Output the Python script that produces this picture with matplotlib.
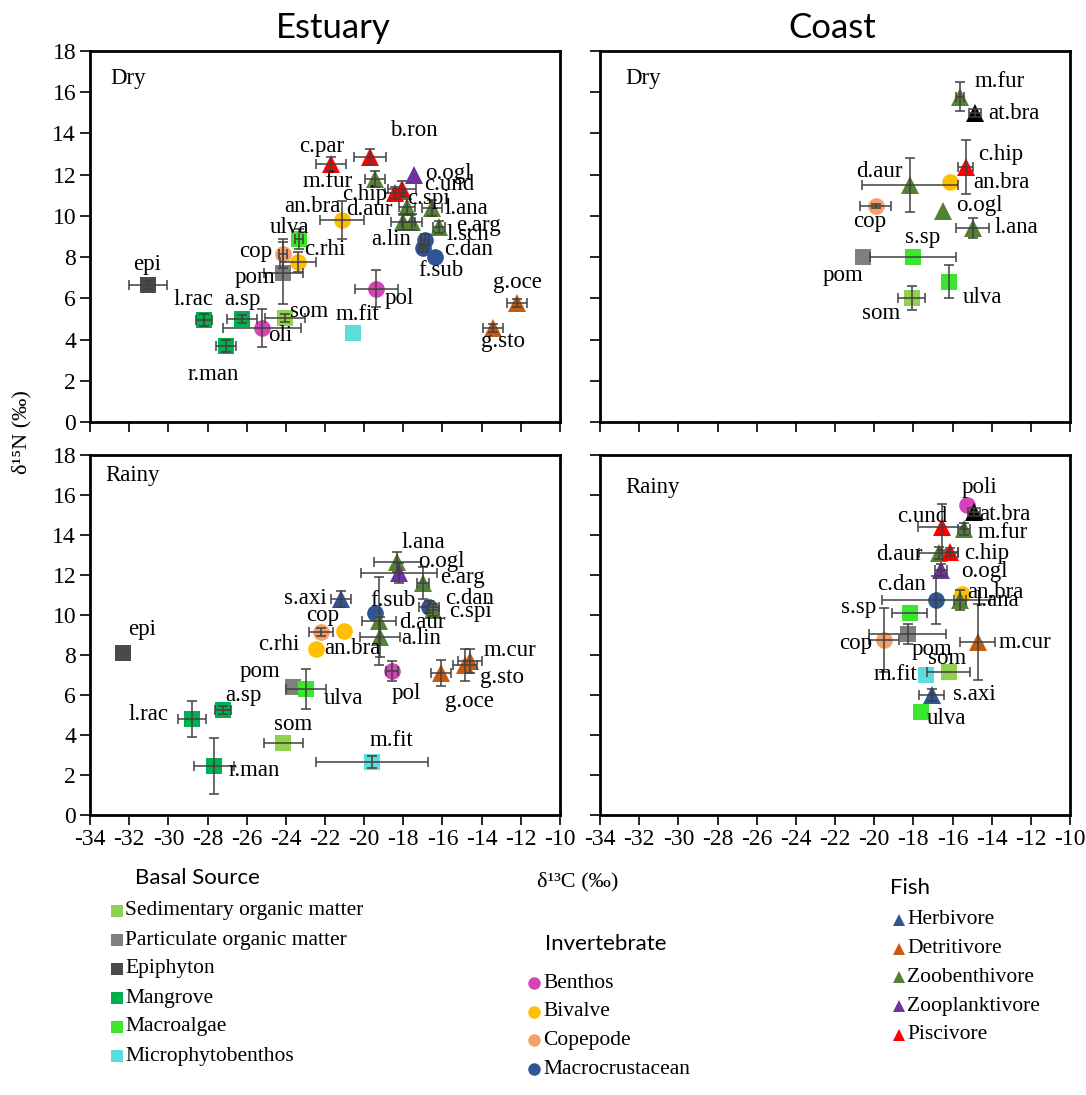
import matplotlib
matplotlib.use('Agg')
from matplotlib import pyplot as plt
from matplotlib.lines import Line2D

plt.rcParams['font.family'] = ['Liberation Serif', 'DejaVu Serif']
plt.rcParams['axes.unicode_minus'] = False

# ---- Estuary, dry season ----
est_dry_names = ['epi', 'l.rac', 'a.sp', 'r.man', 'oli', 'som', 'pom', 'cop', 'c.rhi', 'ulva',
                 'an.bra', 'd.aur', 'c.par', 'b.ron', 'm.fur', 'c.hip', 'c.und', 'o.ogl', 'c.spi',
                 'l.ana', 'e.arg', 'l.sch', 'a.lin', 'c.dan', 'f.sub', 'pol', 'm.fit', 'g.oce', 'g.sto']
est_dry_groups = ['epi', 'mangrove', 'mangrove', 'mangrove', 'benthos', 'som', 'pom', 'copepod',
                  'bivalve', 'macroalgae', 'bivalve', 'zoobenthivore', 'piscivore', 'piscivore',
                  'zoobenthivore', 'piscivore', 'piscivore', 'zooplanktivore', 'zoobenthivore',
                  'zoobenthivore', 'zoobenthivore', 'macrocrust', 'zoobenthivore', 'macrocrust',
                  'macrocrust', 'benthos', 'mpb', 'detritivore', 'detritivore']
est_dry_c13 = [-31.04, -28.18, -26.24, -27.05, -25.22, -24.04, -24.14, -24.14, -23.38, -23.33,
               -21.13, -18.01, -21.69, -19.7, -19.44, -18.42, -18.07, -17.45, -17.81,
               -16.53, -16.18, -16.89, -17.55, -16.99, -16.38, -19.39, -20.57, -12.19, -13.42]
est_dry_n15 = [6.65, 4.95, 5.0, 3.69, 4.56, 5.05, 7.23, 8.16, 7.77, 8.88,
               9.8, 9.71, 12.52, 12.86, 11.8, 11.12, 11.31, 11.99, 10.44,
               10.39, 9.47, 8.83, 9.71, 8.45, 8.01, 6.46, 4.32, 5.78, 4.56]
est_dry_c13_sd = [0.95, 0.4, 0.75, 0.5, 2.0, 1.0, 1.0, 0.2, 0.9, 0.2,
                  1.1, 0.6, 0.75, 0.8, 0.5, 0.5, 0.7, 0, 0.4,
                  0.5, 0.3, 0.2, 0.5, 0.2, 0, 1.1, 0, 0.5, 0.5]
est_dry_n15_sd = [0.2, 0.3, 0.2, 0.3, 0.9, 0.2, 1.5, 0.7, 0.5, 0.5,
                  0.9, 0.4, 0.35, 0.4, 0.4, 0.3, 0.4, 0, 0.4,
                  0.4, 0.3, 0.3, 0.4, 0.2, 0, 0.9, 0, 0.2, 0.2]

# ---- Coast, dry season ----
coast_dry_names = ['m.fur', 'at.bra', 'c.hip', 'an.bra', 'd.aur', 'cop', 'o.ogl', 'l.ana',
                   's.sp', 'pom', 'ulva', 'som']
coast_dry_groups = ['zoobenthivore', 'other', 'piscivore', 'bivalve', 'zoobenthivore', 'copepod',
                    'zoobenthivore', 'zoobenthivore', 'macroalgae', 'pom', 'macroalgae', 'som']
coast_dry_c13 = [-15.63, -14.87, -15.33, -16.14, -18.18, -19.92, -16.5, -14.97,
                 -18.03, -20.58, -16.19, -18.08]
coast_dry_n15 = [15.78, 15.0, 12.38, 11.65, 11.5, 10.49, 10.24, 9.42, 8.01, 8.01, 6.8, 6.02]
coast_dry_c13_sd = [0.2, 0.3, 0.4, 0, 2.45, 0.8, 0, 0.85, 2.2, 0, 0, 0.7]
coast_dry_n15_sd = [0.7, 0.2, 1.3, 0, 1.3, 0.1, 0, 0.5, 0, 0, 0.8, 0.6]

# ---- Estuary, rainy season ----
est_rainy_names = ['epi', 'l.rac', 'a.sp', 'r.man', 'som', 'pom', 'ulva', 'm.fit', 'pol', 'g.oce',
                   'g.sto', 'm.cur', 'c.rhi', 'an.bra', 'cop', 's.axi', 'f.sub', 'd.aur', 'a.lin',
                   'l.ana', 'o.ogl', 'e.arg', 'c.dan', 'c.spi']
est_rainy_groups = ['epi', 'mangrove', 'mangrove', 'mangrove', 'som', 'pom', 'macroalgae', 'mpb',
                    'benthos', 'detritivore', 'detritivore', 'detritivore', 'bivalve', 'bivalve',
                    'copepod', 'herbivore', 'macrocrust', 'zoobenthivore', 'zoobenthivore',
                    'zoobenthivore', 'zooplanktivore', 'zoobenthivore', 'macrocrust', 'zoobenthivore']
est_rainy_c13 = [-32.31, -28.79, -27.21, -27.67, -24.14, -23.63, -22.97, -19.6, -18.58, -16.07,
                 -14.85, -14.59, -22.46, -21.03, -22.2, -21.18, -19.44, -19.24, -19.19,
                 -18.32, -18.22, -16.99, -16.69, -16.48]
est_rainy_n15 = [8.1, 4.8, 5.25, 2.45, 3.6, 6.4, 6.3, 2.65, 7.2, 7.1,
                 7.5, 7.7, 8.3, 9.2, 9.15, 10.8, 10.1, 9.7, 8.9,
                 12.65, 12.1, 11.6, 10.4, 10.25]
est_rainy_c13_sd = [0, 0.7, 0.4, 1.0, 1.0, 0, 1.0, 2.85, 0.3, 0.5,
                    0.6, 0.6, 0, 0, 0.6, 0.5, 0, 0.85, 1.0,
                    1.2, 1.95, 0.3, 0.5, 0.3]
est_rainy_n15_sd = [0, 0.9, 0.2, 1.4, 0, 0, 1.0, 0.3, 0.5, 0.65,
                    0.8, 0.6, 0, 0, 0.2, 0.4, 0, 2.2, 1.0,
                    0.5, 0.5, 0.8, 0.3, 0.3]

# ---- Coast, rainy season ----
coast_rainy_names = ['poli', 'at.bra', 'c.und', 'm.fur', 'd.aur', 'c.hip', 'o.ogl', 'an.bra',
                     'l.ana', 'c.dan', 's.sp', 'pom', 'cop', 'm.cur', 'som', 'm.fit', 's.axi', 'ulva']
coast_rainy_groups = ['benthos', 'other', 'piscivore', 'zoobenthivore', 'zoobenthivore', 'piscivore',
                      'zooplanktivore', 'bivalve', 'zoobenthivore', 'macrocrust', 'macroalgae', 'pom',
                      'copepod', 'detritivore', 'som', 'mpb', 'herbivore', 'macroalgae']
coast_rainy_c13 = [-15.28, -14.92, -16.55, -15.43, -16.7, -16.14, -16.6, -15.53,
                   -15.63, -16.86, -18.18, -18.29, -19.5, -14.71, -16.19, -17.37, -17.06, -17.62]
coast_rainy_n15 = [15.5, 15.15, 14.4, 14.3, 13.1, 13.15, 12.25, 11.05,
                   10.75, 10.75, 10.1, 9.05, 8.75, 8.65, 7.15, 7.0, 6.0, 5.15]
coast_rainy_c13_sd = [0, 0.3, 1.2, 0.3, 1.0, 0.4, 0.3, 0, 0.3, 2.75, 0.9, 1.95, 0.75, 0.9, 1.1, 0, 0.65, 0]
coast_rainy_n15_sd = [0, 0.2, 1.15, 0.3, 0.3, 0.2, 0.3, 0, 0.5, 1.2, 0, 0.5, 1.6, 1.9, 0, 0, 0.3, 0]

# legend entries
basal_labels = ['Sedimentary organic matter', 'Particulate organic matter', 'Epiphyton',
                'Mangrove', 'Macroalgae', 'Microphytobenthos']
basal_groups = ['som', 'pom', 'epi', 'mangrove', 'macroalgae', 'mpb']
inv_labels = ['Benthos', 'Bivalve', 'Copepode', 'Macrocrustacean']
inv_groups = ['benthos', 'bivalve', 'copepod', 'macrocrust']
fish_labels = ['Herbivore', 'Detritivore', 'Zoobenthivore', 'Zooplanktivore', 'Piscivore']
fish_groups = ['herbivore', 'detritivore', 'zoobenthivore', 'zooplanktivore', 'piscivore']

# marker / colour for each group
styles = {
    'som': ('s', '#92D050'),
    'pom': ('s', '#7F7F7F'),
    'epi': ('s', '#4A4A4A'),
    'mangrove': ('s', '#00B050'),
    'macroalgae': ('s', '#3CE62E'),
    'mpb': ('s', '#5CDCDA'),
    'benthos': ('o', '#D642B8'),
    'bivalve': ('o', '#FFC000'),
    'copepod': ('o', '#F4A06A'),
    'macrocrust': ('o', '#2F5597'),
    'herbivore': ('^', '#2F5597'),
    'detritivore': ('^', '#C55A11'),
    'zoobenthivore': ('^', '#548235'),
    'zooplanktivore': ('^', '#7030A0'),
    'piscivore': ('^', '#FF0000'),
    'other': ('^', '#000000'),
}
msize = {'s': 11, 'o': 12, '^': 12.5}

# label offsets (pixels) from each point
est_dry_off = [(-1, 20), (-10, 20), (0, 19), (-13, -29), (18, -7), (24, 6), (-28, -5), (-27, 2),
               (27, 12), (-9, 11), (-30, 14), (-34, 12), (-9, 17), (44, 26), (-47, -3), (-30, -2),
               (47, 4), (34, 1), (21, 8), (34, -1), (39, 1), (43, 6), (-21, -18), (45, -2),
               (6, -14), (23, -10), (4, 18), (0, 20), (10, -13)]
coast_dry_off = [(40, 15), (39, -1), (35, 12), (52, -1), (-30, 13), (-6, -16), (37, 5), (44, 0),
                 (10, 19), (-20, -19), (34, -16), (-31, -16)]
est_rainy_off = [(19, 23), (-43, 5), (20, 15), (40, -4), (10, 18), (-33, 15), (37, -10), (19, 21),
                 (14, -22), (28, -29), (37, -12), (40, 11), (-37, 4), (8, -18), (2, 17), (-36, 1),
                 (18, 13), (43, -1), (41, -2), (26, 20), (42, 12), (39, 5), (41, 9), (37, -1)]
coast_rainy_off = [(13, 18), (31, -2), (-19, 10), (39, -3), (-39, -1), (37, -2), (44, -2), (34, 2),
                   (38, -1), (-34, 15), (-51, 6), (24, -16), (-28, -3), (47, -1), (-2, 14), (-30, 0),
                   (43, 0), (26, -6)]

W, H = 1086, 1095
fig = plt.figure(figsize=(W / 100, H / 100), dpi=100)


def box(left, top, right, bottom):
    return [left / W, 1 - bottom / H, (right - left) / W, (bottom - top) / H]


def draw_panel(ax, names, groups, xs, ys, xsd, ysd, offsets, season, season_pos,
               ylabels=True, xlabels=True):
    for n, g, x, y, ex, ey, off in zip(names, groups, xs, ys, xsd, ysd, offsets):
        m, c = styles[g]
        ax.plot(x, y, marker=m, ms=msize[m], color=c, mew=0, ls='none', zorder=3)
        if ex or ey:
            ax.errorbar(x, y, xerr=[ex] if ex else None, yerr=[ey] if ey else None,
                        fmt='none', ecolor='#404040', elinewidth=1.1, capsize=3.5,
                        capthick=1.1, zorder=4)
        ax.annotate(n, (x, y), xytext=off, textcoords='offset pixels',
                    ha='center', va='center', fontsize=16.5, zorder=5)
    ax.set_xlim(-34, -10)
    ax.set_ylim(0, 18)
    ax.set_xticks(range(-34, -9, 2))
    ax.set_yticks(range(0, 19, 2))
    ax.tick_params(direction='out', length=7, width=1.2, labelsize=17, pad=3,
                   labelfontfamily='Liberation Serif',
                   labelleft=ylabels, labelbottom=xlabels)
    for s in ax.spines.values():
        s.set_linewidth(2.0)
    ax.text(season_pos[0], season_pos[1], season, transform=ax.transAxes,
            fontsize=16.5, ha='left', va='center')


ax1 = fig.add_axes(box(90, 51, 560, 422))
ax2 = fig.add_axes(box(600, 51, 1070, 422))
ax3 = fig.add_axes(box(90, 455, 560, 815))
ax4 = fig.add_axes(box(600, 455, 1070, 815))

draw_panel(ax1, est_dry_names, est_dry_groups, est_dry_c13, est_dry_n15,
           est_dry_c13_sd, est_dry_n15_sd, est_dry_off, 'Dry', (0.043, 0.927), xlabels=False)
draw_panel(ax2, coast_dry_names, coast_dry_groups, coast_dry_c13, coast_dry_n15,
           coast_dry_c13_sd, coast_dry_n15_sd, coast_dry_off, 'Dry', (0.053, 0.927),
           ylabels=False, xlabels=False)
draw_panel(ax3, est_rainy_names, est_rainy_groups, est_rainy_c13, est_rainy_n15,
           est_rainy_c13_sd, est_rainy_n15_sd, est_rainy_off, 'Rainy', (0.032, 0.944))
draw_panel(ax4, coast_rainy_names, coast_rainy_groups, coast_rainy_c13, coast_rainy_n15,
           coast_rainy_c13_sd, coast_rainy_n15_sd, coast_rainy_off, 'Rainy', (0.053, 0.91),
           ylabels=False)

# column titles and axis titles
fig.text(333 / W, 1 - 28 / H, 'Estuary', family='Lato', fontsize=25, ha='center', va='center')
fig.text(832 / W, 1 - 28 / H, 'Coast', family='Lato', fontsize=25, ha='center', va='center')
fig.text(22 / W, 1 - 432 / H, 'δ¹⁵N (‰)', rotation=90, fontsize=16, ha='center', va='center')
fig.text(578 / W, 1 - 882 / H, 'δ¹³C (‰)', fontsize=16, ha='center', va='center')


def legend_block(title, title_xy, labels, groups, mx, tx, y0, step, size):
    fig.text(title_xy[0] / W, 1 - title_xy[1] / H, title, family='Lato', fontsize=16,
             ha='left', va='center')
    for i, (lab, g) in enumerate(zip(labels, groups)):
        m, c = styles[g]
        yy = 1 - (y0 + i * step) / H
        fig.add_artist(Line2D([mx / W], [yy], marker=m, ms=size, color=c, mew=0, ls='none',
                              transform=fig.transFigure))
        fig.text(tx / W, yy, lab, fontsize=15.5, ha='left', va='center')


legend_block('Basal Source', (135, 878), basal_labels, basal_groups, 117, 125, 911, 29, 8)
legend_block('Invertebrate', (545, 944), inv_labels, inv_groups, 534, 543, 983, 28.7, 9)
legend_block('Fish', (890, 888), fish_labels, fish_groups, 899, 907, 920, 28.7, 9)

fig.savefig('out.png', dpi=100)
